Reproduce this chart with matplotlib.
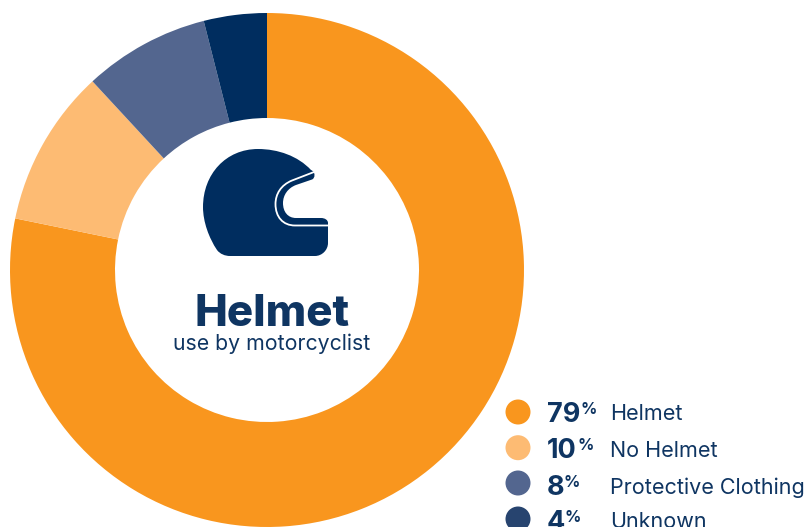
import matplotlib
matplotlib.use("Agg")
import matplotlib.pyplot as plt
from matplotlib.patches import Circle, PathPatch
from matplotlib.path import Path

plt.rcParams['font.family'] = ['Inter', 'DejaVu Sans']

categories = ['Helmet', 'No Helmet', 'Protective Clothing', 'Unknown']
values = [79, 10, 8, 4]
slice_colors = ['#F9961E', '#FDBB73', '#53668F', '#002D5F']
dot_colors = ['#F9961E', '#FDBB73', '#53668F', '#27446F']
navy = '#002D5F'
text_navy = '#0F3562'

W, H = 809, 527


def fy(y):
    # y measured from the top edge
    return H - y


fig = plt.figure(figsize=(W / 100, H / 100), dpi=100)
ax = fig.add_axes([0, 0, 1, 1])

# donut
ax.pie(values, colors=slice_colors, startangle=90, counterclock=False,
       center=(267, fy(270)), radius=257, frame=False,
       wedgeprops=dict(width=105, linewidth=0))
ax.set_xlim(0, W)
ax.set_ylim(0, H)
ax.set_aspect('equal')
ax.axis('off')


# helmet icon, points given from the top-left corner
def hp(x, y):
    return (x, fy(y))


body = [
    (Path.MOVETO, hp(311, 170)),
    (Path.CURVE4, hp(298, 156)), (Path.CURVE4, hp(278, 149)), (Path.CURVE4, hp(258, 149)),
    (Path.CURVE4, hp(226, 149)), (Path.CURVE4, hp(203, 174)), (Path.CURVE4, hp(203, 207)),
    (Path.CURVE4, hp(203, 222)), (Path.CURVE4, hp(209, 238)), (Path.CURVE4, hp(217, 250)),
    (Path.CURVE4, hp(220, 254)), (Path.CURVE4, hp(225, 256)), (Path.CURVE4, hp(230, 256)),
    (Path.LINETO, hp(315, 256)),
    (Path.CURVE4, hp(322, 256)), (Path.CURVE4, hp(328, 250)), (Path.CURVE4, hp(328, 243)),
    (Path.LINETO, hp(328, 223)),
    (Path.CURVE4, hp(328, 220)), (Path.CURVE4, hp(325, 218)), (Path.CURVE4, hp(321, 218)),
    (Path.LINETO, hp(296, 218)),
    (Path.CURVE4, hp(288, 218)), (Path.CURVE4, hp(283, 212)), (Path.CURVE4, hp(283, 203)),
    (Path.CURVE4, hp(283, 195)), (Path.CURVE4, hp(288, 188)), (Path.CURVE4, hp(296, 185)),
    (Path.LINETO, hp(312, 179.5)),
    (Path.CURVE4, hp(315, 178.5)), (Path.CURVE4, hp(316, 172)), (Path.CURVE4, hp(311, 170)),
    (Path.CLOSEPOLY, hp(311, 170)),
]
codes, verts = zip(*body)
ax.add_patch(PathPatch(Path(verts, codes), facecolor=navy, edgecolor='none', zorder=3))

# white line separating the visor rim from the shell
rim = [
    (Path.MOVETO, hp(314, 172)),
    (Path.LINETO, hp(292, 180.5)),
    (Path.CURVE4, hp(281, 185)), (Path.CURVE4, hp(275.5, 194)), (Path.CURVE4, hp(275.5, 204)),
    (Path.CURVE4, hp(275.5, 217)), (Path.CURVE4, hp(283, 225.5)), (Path.CURVE4, hp(295, 225.5)),
    (Path.LINETO, hp(329, 225.5)),
]
codes, verts = zip(*rim)
ax.add_patch(PathPatch(Path(verts, codes), facecolor='none', edgecolor='white', lw=1.3, zorder=4))

# centre title
ax.text(272, fy(325.5), 'Helmet', fontsize=31.5, fontweight=800, color=text_navy,
        ha='center', va='baseline', zorder=5)
ax.text(271.5, fy(350), 'use by motorcyclist', fontsize=15.3, color=text_navy,
        ha='center', va='baseline', zorder=5)

# legend rows
dot_y = [412, 447.7, 483, 519]
num_y = [422, 458.5, 495, 530]
label_y = [420, 457, 493.5, 527.7]
pct_x = [581, 578, 564, 565]
for cat, val, col, dy, ny, ly, px in zip(categories, values, dot_colors, dot_y, num_y, label_y, pct_x):
    ax.add_patch(Circle((518, fy(dy)), 12.5, facecolor=col, edgecolor='none', zorder=5))
    ax.text(547, fy(ny), str(val), fontsize=19.5, fontweight='bold', color=text_navy,
            ha='left', va='baseline', zorder=5)
    ax.text(px, fy(ny - 8), '%', fontsize=11.5, fontweight='bold', color=text_navy,
            ha='left', va='baseline', zorder=5)
    ax.text(610, fy(ly), cat, fontsize=15.5, color=text_navy,
            ha='left', va='baseline', zorder=5)

fig.savefig('out.png', dpi=100)
